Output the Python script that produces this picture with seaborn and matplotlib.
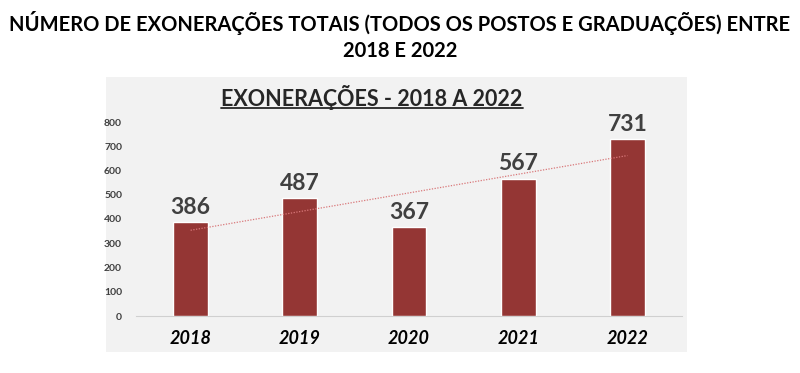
import numpy as np
import pandas as pd
import matplotlib
matplotlib.use("Agg")
import matplotlib.pyplot as plt
import seaborn as sns
from matplotlib.lines import Line2D

years = ["2018", "2019", "2020", "2021", "2022"]
values = [386, 487, 367, 567, 731]
yticks = [0, 100, 200, 300, 400, 500, 600, 700, 800]
outer_title = "NÚMERO DE EXONERAÇÕES TOTAIS (TODOS OS POSTOS E GRADUAÇÕES) ENTRE\n2018 E 2022"
inner_title = "EXONERAÇÕES - 2018 A 2022"

sns.set_theme(style="white")
plt.rcParams['font.family'] = ['Lato', 'DejaVu Sans']

df = pd.DataFrame({"ano": years, "valor": values})

fig = plt.figure(figsize=(8, 3.73), dpi=100)
fig.patch.set_facecolor("white")

# gray panel as background axes
bg = fig.add_axes([106/800, 1-352/373, (687-106)/800, (352-77)/373])
bg.set_facecolor("#f2f2f2")
bg.set_xticks([]); bg.set_yticks([])
for s in bg.spines.values():
    s.set_visible(False)
bg.set_zorder(0)

ax = fig.add_axes([136/800, 1-316/373, (682-136)/800, (316-122)/373])
ax.set_zorder(1)
ax.set_facecolor("none")
sns.barplot(data=df, x="ano", y="valor", color="#943634", width=0.32,
            saturation=1, ax=ax, zorder=3)
ax.set_xlim(-0.5, 4.5)
ax.set_ylim(0, 800)
ax.set_yticks(yticks)
ax.set_yticklabels([str(v) for v in yticks], fontsize=7.5, fontweight="bold", color="#404040")
ax.set_xlabel("")
ax.set_ylabel("")
ax.set_xticks(range(len(years)))
ax.set_xticklabels(years, fontsize=13, fontweight="bold", fontstyle="italic", color="black")
ax.set_xticks(np.arange(-0.5, 5, 1), minor=True)
ax.tick_params(axis="x", which="major", length=0, pad=10)
ax.tick_params(axis="x", which="minor", length=4, color="#d0d0d0", width=0.8, direction="out")
ax.tick_params(axis="y", length=0, pad=10)
for s in ["top", "right", "left"]:
    ax.spines[s].set_visible(False)
ax.spines["bottom"].set_color("#d0d0d0")
ax.spines["bottom"].set_linewidth(0.8)

for c in ax.containers:
    ax.bar_label(c, labels=[str(v) for v in values], padding=3, fontsize=16.5,
                 fontweight="bold", color="#404040")

# linear trendline
xi = np.arange(len(values))
m, b = np.polyfit(xi, values, 1)
ax.plot(xi, m*xi + b, linestyle=(0, (1, 1.2)), color="#d9787a", linewidth=0.9, zorder=4)

fig.text(0.5, 1-11/373, outer_title, ha="center", va="top", fontsize=14.5,
         fontweight="bold", color="black", linespacing=1.4)

t = fig.text(372/800, 1-97/373, inner_title, ha="center", va="center", fontsize=15.5,
             fontweight="bold", color="#262626")
fig.canvas.draw()
bb = t.get_window_extent().transformed(fig.transFigure.inverted())
fig.lines.append(Line2D([bb.x0, bb.x1], [bb.y0 + 0.004, bb.y0 + 0.004],
                        transform=fig.transFigure, color="#262626", linewidth=1.3))

fig.savefig("out.png", dpi=100, facecolor="white")
